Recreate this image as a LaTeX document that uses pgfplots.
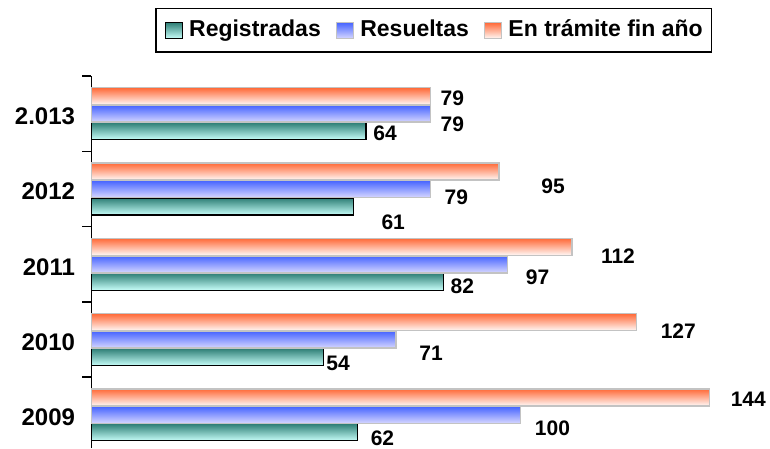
\documentclass[border=0pt]{standalone}
\usepackage{pgfplots}
\pgfplotsset{compat=1.18}
\usepackage{pgfplotstable}
\usepackage{fontspec}
\setmainfont{Liberation Sans}

\definecolor{tealtop}{RGB}{47,127,118}
\definecolor{tealbot}{RGB}{200,255,250}
\definecolor{bluetop}{RGB}{70,100,255}
\definecolor{bluebot}{RGB}{215,215,255}
\definecolor{orgtop}{RGB}{255,105,55}
\definecolor{orgmid}{RGB}{255,220,210}
\definecolor{orgbot}{RGB}{255,248,246}
\definecolor{bargray}{RGB}{195,195,195}

% y: 0=2009 ... 4=2.013 ; dx, dy = label offset (pt)
\pgfplotstableread{
y v dx dy
0 62 25 6
1 54 15 6
2 82 19 5
3 61 40 16
4 64 19 2.5
}\registradas
\pgfplotstableread{
y v dx dy
0 100 32 13
1 71 35 14
2 97 30 13
3 79 26 8
4 79 22 10.5
}\resueltas
\pgfplotstableread{
y v dx dy
0 144 39 2
1 127 42 9
2 112 46 9
3 95 54 15
4 79 22 2
}\entramite

\pgfplotsset{
  regstyle/.style={top color=tealtop, bottom color=tealbot, draw=black, line width=1.2pt},
  resstyle/.style={top color=bluetop, bottom color=bluebot, draw=bargray, line width=1.5pt},
  tramstyle/.style={top color=orgtop, middle color=orgmid, bottom color=orgbot, draw=bargray, line width=1.5pt},
}

\begin{document}
\begin{tikzpicture}
\useasboundingbox (-91.5pt,0pt) rectangle (678.5pt,448pt);
\begin{axis}[
  at={(0pt,0pt)}, anchor=south west,
  scale only axis, width=643.5pt, height=372pt,
  xmin=0, xmax=150, ymin=-0.44, ymax=4.5,
  axis x line=none, axis y line*=left,
  y axis line style={line width=1.5pt, black},
  xbar, bar width=17pt,
  ytick={0,1,2,3,4}, yticklabels={2009,2010,2011,2012,2.013},
  major tick length=0pt,
  extra y ticks={0.5,1.5,2.5,3.5,4.5}, extra y tick labels={},
  extra y tick style={major tick length=9pt, tick align=outside,
     tick style={line width=1.5pt, black}},
  yticklabel style={font=\fontsize{24}{28}\selectfont\bfseries, xshift=-13pt, yshift=-2.5pt},
  clip=false,
  point meta=explicit symbolic,
  nodes near coords,
  visualization depends on={\thisrow{dx} \as \dx},
  visualization depends on={\thisrow{dy} \as \dy},
  every node near coord/.append style={anchor=center, xshift=\dx pt, yshift=-\dy pt,
     font=\fontsize{21}{25}\selectfont\bfseries, text=black},
  legend columns=3,
  legend style={at={(0.532,1)}, anchor=south, yshift=23pt,
     draw=black, line width=1.5pt, inner xsep=9pt, inner ysep=11.25pt,
     font=\fontsize{23}{27}\selectfont\bfseries,
     nodes={inner sep=0pt, text height=16.5pt, text depth=4.5pt},
     /tikz/every odd column/.style={column sep=6pt},
     /tikz/every even column/.style={column sep=15pt}},
  legend image code/.code={\draw[#1] (0pt,-8pt) rectangle (17pt,8pt);},
]
\addlegendimage{regstyle}
\addlegendentry{Registradas}
\addlegendimage{resstyle}
\addlegendentry{Resueltas}
\addlegendimage{tramstyle}
\addlegendentry{En trámite fin año}
\pgfplotsinvokeforeach{-0.1:0.1, 0.9:1.1, 1.9:2.1, 2.9:3.1, 3.9:4.1}{
  \addplot[forget plot, bar shift=-17.5pt, regstyle, restrict y to domain=#1]
    table[x=v, y=y, meta=v] {\registradas};
  \addplot[forget plot, bar shift=0pt, resstyle, restrict y to domain=#1]
    table[x=v, y=y, meta=v] {\resueltas};
  \addplot[forget plot, bar shift=17.5pt, tramstyle, restrict y to domain=#1]
    table[x=v, y=y, meta=v] {\entramite};
}
\end{axis}
\end{tikzpicture}
\end{document}
